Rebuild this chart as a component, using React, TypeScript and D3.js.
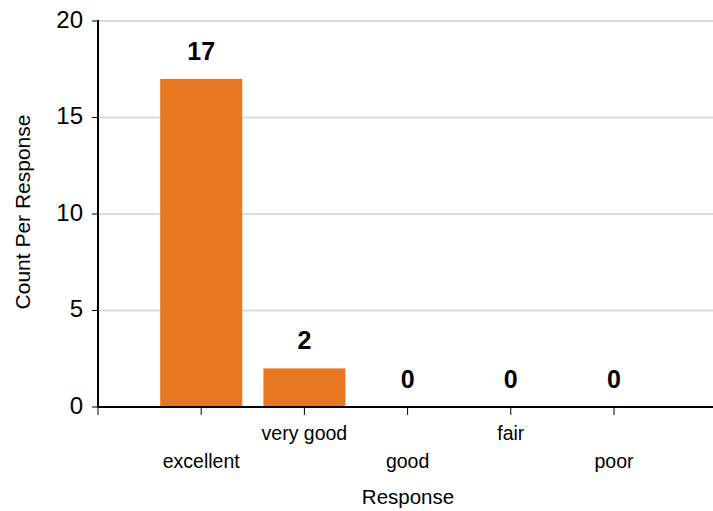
import React from "react";
import * as d3 from "d3";

const categories: string[] = ["excellent", "very good", "good", "fair", "poor"];
const counts: number[] = [17, 2, 0, 0, 0];
const yTicks: number[] = [0, 5, 10, 15, 20];

const W = 713;
const H = 511;
const left = 98;
const top = 21;
const bottom = 407;

export default function App() {
  const y = d3.scaleLinear().domain([0, 20]).range([bottom, top]);
  // categories placed at positions 1..5, axis starts at 0
  const x = d3.scaleLinear().domain([0, 6]).range([left, left + 6 * 103.2]);
  const barW = 82;
  const font = "Arial, 'Liberation Sans', sans-serif";
  const tickPositions = d3.range(0, categories.length + 1);

  return (
    <svg
      width={W}
      height={H}
      style={{ position: "absolute", left: 0, top: 0, background: "#fff" }}
      fontFamily={font}
    >
      {yTicks.filter((t) => t > 0).map((t) => (
        <line key={"g" + t} x1={left} x2={W} y1={y(t)} y2={y(t)} stroke="#dcdcdc" strokeWidth={2} />
      ))}
      {yTicks.map((t) => (
        <g key={"y" + t}>
          <line x1={left - 6} x2={left} y1={y(t)} y2={y(t)} stroke="#000" strokeWidth={1} />
          <text x={left - 15} y={y(t)} dy="0.28em" textAnchor="end" fontSize={24} fill="#000">
            {t}
          </text>
        </g>
      ))}
      {counts.map((v, i) => (
        <g key={"b" + i}>
          {v > 0 && (
            <rect x={x(i + 1) - barW / 2} y={y(v)} width={barW} height={y(0) - y(v)} fill="#E87722" />
          )}
          <text x={x(i + 1)} y={y(v) - 19} textAnchor="middle" fontSize={25} fontWeight="bold" fill="#000">
            {v}
          </text>
        </g>
      ))}
      {tickPositions.map((p) => (
        <line key={"xt" + p} x1={x(p)} x2={x(p)} y1={bottom} y2={bottom + 8} stroke="#000" strokeWidth={1} />
      ))}
      {categories.map((c, i) => (
        <text
          key={"xl" + i}
          x={x(i + 1)}
          y={i % 2 === 0 ? 461 : 433}
          dy="0.36em"
          textAnchor="middle"
          fontSize={19.5}
          fill="#000"
        >
          {c}
        </text>
      ))}
      <line x1={left} x2={W} y1={bottom} y2={bottom} stroke="#000" strokeWidth={2} />
      <line x1={left} x2={left} y1={top - 1} y2={bottom + 1} stroke="#000" strokeWidth={2} />
      <text x={408} y={497} dy="0.36em" textAnchor="middle" fontSize={20.5} fill="#000">
        Response
      </text>
      <text
        transform={`translate(22, ${(top + bottom) / 2 - 2}) rotate(-90)`}
        dy="0.36em"
        textAnchor="middle"
        fontSize={21}
        fill="#000"
      >
        Count Per Response
      </text>
    </svg>
  );
}
